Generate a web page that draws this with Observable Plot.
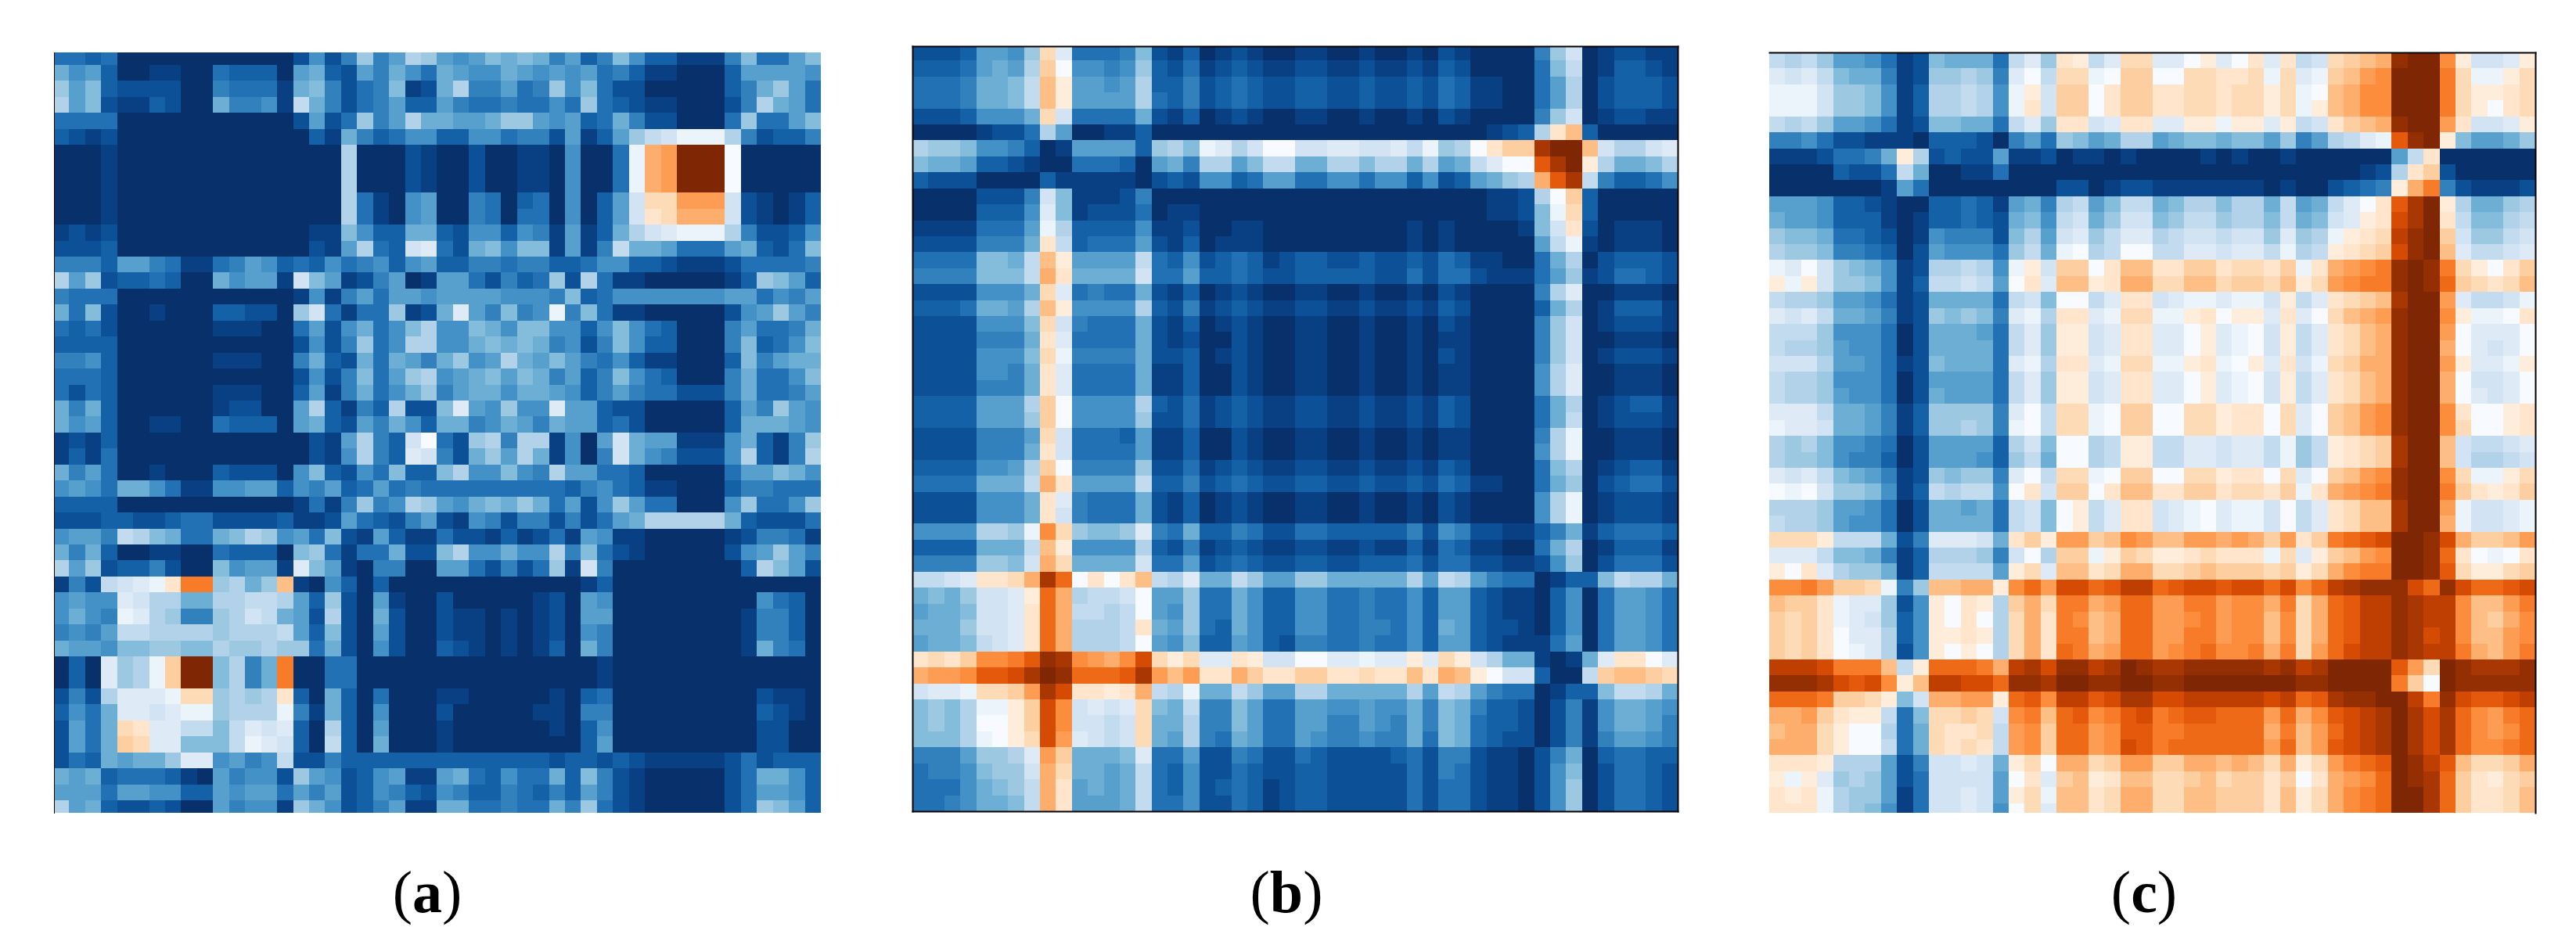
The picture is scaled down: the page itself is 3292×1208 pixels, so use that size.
<!DOCTYPE html>
<html>
<head>
<meta charset="utf-8">
<script src="https://cdn.jsdelivr.net/npm/d3@7"></script>
<script src="https://cdn.jsdelivr.net/npm/@observablehq/plot@0.6"></script>
<style>
html,body{margin:0;padding:0;background:#fff}
#page{position:relative;width:3292px;height:1208px;overflow:hidden}
.panel{position:absolute}
.cap{position:absolute;top:1094px;width:300px;text-align:center;font-family:"Liberation Serif",serif;font-size:76px;line-height:92px;color:#000}
.cap b{font-weight:700}
</style>
</head>
<body>
<div id="page"></div>
<script>
// Each character is one cell: its position in levels is the cell's value.
const levels = "ABCDEFGHIJKLMNOPQRSTUVWXYZabcdefg";
const captions = ["a","b","c"];

const panelA = [
"EEDEAAAAAAAAAAACGCFKFHLK HGHJIJIFHDFJGDDBBBFJEEHJ",
"IGHDAABBAAEDDDAHIDCHFIGE IHGGIHGHGHEFDBBAAADHHHHG",
"KHJDCCCCAAFEEEBIJFCEFJBC ILFFHEFKGJECCAAAAADFIKHE",
"LHJCBBDCAAIFFGBMIFCEFHDD HFEEFEEGEKEDCBBAAACFLIHE",
"EEEEAAAAAAAAAAACHCEKFHLI IHHIKKHGHDEIFCCAAAEKEEHJ",
"DCBCAAAAAAAAAAAADBIFDEGG DDGGEFFCHBDHKMNPPPLFCDDF",
"AAABAAAAAAAAAAAAAALAAACB AACAABBAGAAEPWXgggQAAAAA",
"AAABAAAAAAAAAAAAAALAAACB AACAABBAGAAEPWXgggQAAAAA",
"AAABAAAAAAAAAAAAAALAAACB AACAABBAGAAEPWXgggQAAAAA",
"AAABAAAAAAAAAAAAAALEBAGH AAFEADEAGADHNTTXXXNCBABD",
"AAABAAAAAAAAAAAAAALEBAGH AAFEAEEAGADHNSTWWWNCBABD",
"BCBCAAAAAAAAAAAABBJGDDII DCGGDGFBHBDILNOPPPLFCCDG",
"CCCDAAAAAAAAAAAACBHLEDNO ECIJGJJBHBFMIIHEEEHIDCEJ",
"FFFDHHFEBBEFHGDEDGEFGDGH DDFFEFFDDEGGDDCBBBCEEEEF",
"LHKCDDEDAAIGHHBNJHBCFHAB HHECFDEKCLEBBAAAAABDKJHD",
"FEEEAAAAAAAAAAABGBFHEHHG HHHHGGGFJDEGGGGGGGHHEGFH",
"IEJCAABAAADDCCAKNEBEEKBC IOHFJFGPFJEBBAAAAACGHKHF",
"EDECAAAAAABBBAAEHCGIEGJL GGJIGJJGGDGJGEDAAAFHEEFI",
"DDDDAAAAAAAAAAACGCFKEGLL GGIJIJIFGCFJGDDAAAFJDEGJ",
"FFGDAAAAAABBBAAFIDCIEIHF IKGHLIHJHFEGDBBAAADJFHII",
"EEEDAAAAAAAAAAACGCFJEHKL GHIJHJIFHDFJGEDAAAFIEEGJ",
"ECEDAAAAAABBBAADHBFIEGIK FHIIGIIHGDFHFEECCCFIEEFH",
"IFIDAAAAAABCCAAHLDBFDLCC JOHGKGGOHHDCCAAAAADHFKHG",
"IGHDAABBAAEDDDAHIDCHFIGD IIFGIHFIHHDECAAAAADIIIHG",
"BCBDAAAAAAAAAAAACBHLFDNQ ECKLFLLBGAHNIHHBBBGIDBFK",
"BDBEAAAAAAAAAAAACBGLFDON FCIKHLIBGAFNIGFCCCGLDBFL",
"IFHEAABAAADCCCAGJDCGEJDD JLGGJGFLHHEEDAAAAAEHHJIG",
"GHGEIIGEBBGGHHDGFHDEHEFE EEEEEEEEDFGEDBBAAADFFEEE",
"DDDDAAAAAAAAAAABEBFKFGLK HGIJIKIEHCGKHEEAAAGKEEGK",
"CCCDDCCDEECCCCDBBCHEDCFH CBGFCFFCFCEHILLLLLIDCCCE",
"GHHFMLJIEEIJLKGHEJCBHDBB ECCBDBCEBHGBBAAAAABCFFEB",
"IFIDAABBAAEDDDAJKEBEEICC JLGGIGGLFJECBAAAAACGHKHF",
"LHKCDDFCAAJGHHBOJHBAFFAA HHECFCEKBNFAAAAAAAADLJHC",
"BFCMNOPSZZKLIKVBAGDADAAA AAAAAAAAABDAAAAAAAAAAAAA",
"GHGGONLLIILLMMLHDKCAHBAA CAAAAABCAHGAAAAAAAAAGEDA",
"GIGFPOLKFFKLNMIHCLCAICAA CBBABABCAHHAAAAAAAABFFDA",
"FGFHMMLLLLKLLLMHDJCAHCAA CBBABABCAGFAAAAAAAABFFDA",
"IHHGJJKKJJLKKLKKEICAGCAA DCBABABDAIFAAAAAAAABIFEA",
"ADAOKLPUggJLFIZAAEEAAAAA AAAAAAAAAABAAAAAAAAAAAAA",
"ADAOKLPUggJLFIZAAEEAAAAA AAAAAAAAAABAAAAAAAAAAAAA",
"CFCLOOOPTTKLKLSDAIDAEAAA BBAAAAABADEAAAAAAAAACBBA",
"DGEIOONOPPKLLLPFBIDAGAAA CAAAAABBAFFAAAAAAAAADCBA",
"CHEITSOOMMJMONODALDAHAAA BAAAAAABADGAAAAAAAAACCAA",
"CHEIUTOOJJJMPONDAMDAIAAA BAAAAAAAADHAAAAAAAAACCAA",
"CEDIHIIKOOGHFGMCCFDDDDDD DDDDDDDCDDCDCBBBBBCECDDD",
"IHIDEEEDBAHFGGCKHGCDGHBB HIEDGEEIDJFCBAAAAACEIIGD",
"HHHEHHGGDDHGHHEHFHCDGFDC GFDDFEDFDHFCBAAAAACEHHGD",
"LHIDCCDCAAHFGGBKIGCDFHBB IIEEFEEIFKECBAAAAACEKJHD"
];

const panelB = [
"CCCD HHG K T O EEEF J CBD AB CB AA BB AA BA AB A C B AAAA FKN ABCCBB",
"DDDE HIH L U Q GGFG K DCE BC DC BB CC BB CB BC B D C AAAA EJM ABDDCB",
"EEEF IIJ M V R HHGH L DDF CD ED CC DD CC DC CD C E D BBAA EHL ACDDDC",
"EEEF IIJ M V R HHHH L EDF CD ED CC DD CC DC CD C E D BBAA EHL ACDDDC",
"CCCD GGG I T N EEEE I CBD AB CB AA BB AA BA AB A C B AAAA FKN ABCCBB",
"AAAA BCC E L H AABB D AAA AAAAAAAAAAAAAAAAAA BCD LSV D AAAAA",
"LKKJ GGF D A B HHHH D KLJ PO LN QQ NN OO NN O M P K L Q S UU e g g V N L L N O",
"JIIH DDC B A A EEED A HIF LL HJ MM II LL JL LI L H I M O Q Q b e g R L I I J L",
"DCCC AAA A D B BBBB A CDC GG DE HH EE GG EG GD G C D H I K L W b e M F D D E G",
"AAAA CCC F N J BBBC F AAA AAAAAAAAAAAAAAAAAA BBC LQU D AAAAA",
"AAAA DDD G O J BCCC E ABB AAAAAAAAAAAAAAAAAA BBC JPT D AAAAA",
"BBBB EEE H P L DDDD G BBC AA BB AA AA AA AA AB A B A A AAB JNS C ABBBA",
"CCCC FFF I S M DEEE H CBD AB BB AA AA AA AA AB A B A A AAA HMP B ABBBA",
"EEEE JJI M V R HHHH M EDG CD ED BC DD CC DC CD C E D B BAA EIL A CDDDC",
"FFFF JJJ M W S IIII N EEH DD ED CC DD DD DC CE C E E C BBB EHK B CEEDC",
"CCCC GGG I T O EFEE I CBD AB CB AA BB AA BA AB A C B A AAA FLO A ABBBA",
"DDDE IIH L V R GGGG L DCF BC DC BB CC BB CB BC B D C A AAA DIL A BDDDB",
"CCCC GGG J T N FEEE I CBD AB CB AA BB AA BA AB A C B A AAA FKN A BCCCB",
"CCCC FFF I S O EEEE I CBC AA CB AA BB AA BA AB A B B A AAA FKN A ABBBA",
"CCCC GGG J T P FFFF I CCD AB CB AA BB AA BA AB A C B A AAA FKN A BCCCB",
"CCCC GGF I S O EEEE I BBD AA CB AA BB AA BA AB A B B A AAA GLO A ABBBA",
"CCCC FFF I S O EEEE I BBD AA CB AA BB AA BA AB A B B A AAA GLO A ABBBA",
"DDDD HHH L U Q GGGG L DCE BC DC BB CC BB CB BC B D C A AAA EIL A BCDDB",
"DDDD HHH K U Q GGGG K CCE BC DC BB CC BB CB BC B D C A AAA EIM A BCCCB",
"CCCC FFF H T N EEED H BBD AA CB AA BB AA BA AB A B B A AAA FLP A ABBBA",
"CCCC FFF I S N EEEE H BBD AA CB AA BB AA BA AB A B B A AAA GLP A ABBBA",
"DDDD GGH L U Q FFFF K CCE BC DC BB CC BB CB BC B D C A AAA EJL A BCDDB",
"EEEE III M W S HHHH M DDF CD ED CC DD CC DC CD C E D B BAA EIK A CDEEC",
"CCCC GGG I S O FEEE I CBD AB CB AA BB AA BA AB A C B A AAA GLP A BCCCB",
"CCCC GGG I S N FEEE I CBD AB CB AA BB AA BA AB A C B A AAA GLP A BCCCB",
"GGGG LLK P Y T KJJK O FEI DD FE CC EE DD DD DF C G F C CBB DFI B DEEED",
"DDDD III M V R GGGG L DCF BC DC BB CC BB CB BD B E D B BAA EIL A BDDDB",
"FFFF KKJ N W T IIII N EEH CD ED CC DD CC DD DE C E E C CBB CGK A CEEEC",
"MMNO SST W e a QSQS V MLO II MK HH KK II II IL H M L H FEE ABD D JMLLI",
"IJIK NNO R a W LMMN Q HHK EE IG DD GG EE FE EG D H H D CBB ADG A EHHGE",
"HIIJ NNO S a W MMLM Q HGK EE IG DD GG EE FE EG D H H D CBB ADG A EHHGE",
"IIIK NNO S a W LLLM S IHK ED IG DD GG EE FF EG D I H D CCB ADG A EHHGE",
"HIIJ MNO S a W LLLM Q HGJ DD HG DC FF EE FE EG D H H D CBB BEH A EHHGE",
"STSU YYZ b f e YXWY c TRT OO SR NN QQ OO PO OR O T R N LII BAB I OSSQO",
"WXXY bbc e g f aaab e XVX SS WU SS UU SS TS SV S W V R QNN DAA M UVVUT",
"NOOP TTU X e c SSRS W MLP II MK HH LL II II IL H M L H FEE ABD D JMMLI",
"JKJL PPR U c Y NONO T JIM FF JH EE HH GG HG GI F J I F DDC ACF B GIIHG",
"JKJL QQR U c Y NNMN T IIL FF JH EE HH FF HG FI F J I E DDC ACF B GIIHF",
"JJJL PQR T c X ONMN T IHL FE IH EE HG FF GF FI E J I E DCC ACF B FHHGF",
"FFFH KKL O X U IIIJ O EEH CC FE CC ED CC CC DE C F F C BBA CFI A DEEDD",
"EFFG JKK N W T IIHI M EDG CC ED CC DD CC CC CE C F E C BBA CGJ A CEEDC",
"EEEG IJK M W S HIHI M EDG CD ED BC DD CC CC CE C E E C BBA CGK A CEEDC",
"EEFG IIJ M W S HHHI M EEG CC ED BC DD CC CC CE C E E C BBA CGK A CEEDC"
];

const panelC = [
"MLMK HHG E B C JIII E MOK SR MO TT OO QR OQ S O S M N T U V W fgg Y R NNOR",
"ONOM JII F B C KKLK F OQM TT PQ UU QQ TT SS T P T O P U V X Y ggg Z T PPRT",
"PPPN KKJ G B D LLML G PRN UU QS UU SS TT ST T R T P Q V W Y Y ggg Z T RRST",
"PPPN KKJ G B D LLML G PSN UU QS UU SS TT ST T R T P R V W Y Y ggg Z T RQST",
"MLMK HHG E B C JJII E MOK SS NO SS OO RR PR R O R M N S U V W fgg X S NNOR",
"FFGE CCB B B A DDDC A FHE KJ HI LL HI JJ IJ J H K F H L M O P bfg R J HHIK",
"BBBC EEF I R L CDCC H BBC ABBABAAAABABAABAAAAAA HMS A AAAAA",
"AAAA DCC E M I AABB E AAA AAAAAAAAAAAAAAAAAAABC LSU C AAAAA",
"AAAA AAA B H E AAAA A AAA CC AB CC BB BB BB B A B A A C D E F RWZ F C BBBC",
"HHHG DDC B A A DDED B HIF LM HJ MM IJ LL JL L I M H I M O Q S beg R L IIKL",
"IHHG DDD B A B DDED C IJG MN IK NN JK MM KL L J M I J N O R S ceg S M JJLM",
"KJJI EED C A B GFFF C JLH NO KM OO LM NN MN N K O K L P R S T dfg U N KKMN",
"LKKJ FFE D A C HGGG E KMI PQ LM QQ MM OO NO O M P L M R S T U cfg V O MMNO",
"POQN KJI G B C LLML G PRN UU QS VV SS UU ST T S U P S W X Y Z fgf Z T RQSU",
"RPRN KKJ G B D MMNM H QSO VV RS WW TT VV TU U T V R T X Y Z Z fgf a U TSTV",
"MLLK HHG E B C IIII E MNJ QQ MO SS NO PP OP P N R M O S T U V egg X O MMNP",
"ONOM IIH F B C KJKJ F OPL SS OP TT PP RS QR R O S O Q T V W X fgg Y R PPQS",
"MMMK GGG E A C IIIH E MOK RR NO SS OO QR OP Q N R M O S T V W fgg X Q OOOQ",
"MLLK HGG E A C IIII E MOK RR NO SS OO QR OP Q N R M O S T V W fgg W Q ONOQ",
"NNNL HHG E B C JIII E OPL SS OP TT PP RS PQ R O S N P T U W W fgg X R OOPR",
"MLLK GGG E A C HHHH E MOK RR NO SS OO QR OP Q N R M O S T V W fgg W Q NNOQ",
"MLLK HGG E A C IHHH E MOK RR NO SS OO QR OP Q N R M O S T V W fgg W Q ONOQ",
"OOOM IIH F B D KKKK F OQM TT PQ UU QQ TT RS S Q T O Q U V X Y fgg Y S QQRS",
"POON IIH F B D KKLK F PQM TT PQ UU QQ TT RS S Q T O Q U V X Y fgg Y T QQRS",
"LKLJ GGF E A C HHHH D LNJ QQ LM RR MM OO NO O M P K M R S T U egg V N MMNO",
"LKKJ GFF D A C HHHG D KMI QQ LM RR MM OO NO O M P K M R S T U egg V N LLMN",
"ONOM JIH F B C KJKK F OQM TT PQ UU QQ TT RS S Q T O Q U V X Y fgg Y T PPRT",
"QPQN KKJ G B D MLMM G QSN UU QS VV SS UU ST T S U P S W X Y Z fgg Z U SRSU",
"LLLK HHG E A C IIHI E MNJ QR MO SS NO PQ OP P N Q M O S T V V egg X P NNOP",
"MLLK HGG E A C IIII E MNJ QR MO SS NO PQ OP P N Q M O S T V V egg W P NNOP",
"TTTR MMM I C F OOON I SUR XX UV YX VV XX WX W U X S U Z a b c ggf c W UUVX",
"OOOM JJI F B D LLLK F NQL UU PR UT RR ST SS S P T O R U V X Y ggf a S QPQS",
"RQSO LKK I B D MMMM H RTO VV ST WW TT UV UU U T U R T W Y Z Z ggf b T RRTU",
"YYZX UUT P F K VVWW R YaX cc ab dd ab cc bc c a c Y a d e f f fca f c aabc",
"VUUS POO K C G RQSR L UWT ZZ WX aa XX ZZ XY Y W Z T W a b d d fed d Y VVXZ",
"UTUS PON K D G RQSQ L TWS ZY VW aa XX YZ XY Y V Y T W a b d d fed d Y VUWY",
"UTUS QOO L D G RRSR L TWS ZZ VW aa XX ZZ XY Y V Y T W a b d d fec d Y VVXY",
"UTUS QPO L C G RQRQ L TWS aZ WX aa XY Za YY Z W Z T X a c d d fed d Z WVXZ",
"dddc ZZZ V M R aaaZ W dec ff de gf ee ff ff f e f d e g ggg bXT g f eee f",
"fffe cbc Y R V ddcc a ffe ggffggffgggggggffgggg ZUQ g fffff",
"aaaZ UUT R J N WWXX R abY dd bc ee cc dd dd d c d a b e f f g g d Z f c bbcd",
"WWXU SRR M E J TTUT N YZV ab YZ bc Za bb aa a X a W Y b c d e g e c e a YXZa",
"VWWT RQQ L E I TSST M XYU aa XY bb ZZ aa aa a W Z V X a c d e g e c e a YXYa",
"WWWT RQQ M E I TSTS M XYU aa XY cb Za aa aa a X a V X b c d e g e c e a YYZa",
"SSSR LLL H C F NNON I RTQ WW TU XX UU WW VW V T W R T X Z a b g f d b V TTUW",
"RPRO KLK H C E NNNN H QSO UV RS VV TT UV TU U S U Q S W X Y a g f e a U SRTU",
"SRSP LKK H B E NNON H RTP VV ST WW TT VV UU U S V R T W Y Z a g g e a U SSTV",
"SSSP LKJ G B E NNON G QTO VV ST WW TT VV UU U S V R T W Y Z a g g e a U SSTV"
];

function cellsOf(rows){
  const out = [];
  rows.forEach((row, r) => {
    [...row.replace(/\s/g, "")].forEach((ch, c) => out.push({r, c, v: levels.indexOf(ch)}));
  });
  return out;
}

const diverging = t => t <= 0.5 ? d3.interpolateBlues(1 - 2 * t) : d3.interpolateOranges(2 * t - 1);

const panels = [
  {rows: panelA, left: 69,   top: 67, w: 980, h: 972, xd: [0.05, 48], yd: [0.23, 47.78], frame: ["left"], sw: 1},
  {rows: panelB, left: 1166, top: 59, w: 978, h: 978, xd: [0, 48],    yd: [0.1, 48],     frame: ["top","right","bottom","left"], sw: 2},
  {rows: panelC, left: 2261, top: 67, w: 979, h: 972, xd: [0, 48],    yd: [0, 47.6],     frame: ["top","right"], sw: 2}
];

const page = document.getElementById("page");
panels.forEach((p, i) => {
  const chart = Plot.plot({
    width: p.w,
    height: p.h,
    margin: 0,
    x: {domain: p.xd, axis: null},
    y: {domain: p.yd, reverse: true, axis: null},
    color: {type: "linear", domain: [0, 32], interpolate: diverging},
    marks: [
      Plot.rect(cellsOf(p.rows), {
        x1: "c", x2: d => d.c + 1, y1: "r", y2: d => d.r + 1,
        fill: "v", clip: true, shapeRendering: "crispEdges"
      }),
      ...p.frame.map(anchor => Plot.frame({anchor, stroke: "#000", strokeWidth: p.sw}))
    ]
  });
  chart.classList.add("panel");
  chart.style.left = p.left + "px";
  chart.style.top = p.top + "px";
  chart.style.overflow = "visible";
  chart.style.maxWidth = "none";
  page.appendChild(chart);
});

[546, 1644, 2740].forEach((cx, i) => {
  const d = document.createElement("div");
  d.className = "cap";
  d.style.left = (cx - 150) + "px";
  d.innerHTML = "(<b>" + captions[i] + "</b>)";
  page.appendChild(d);
});
</script>
</body>
</html>
